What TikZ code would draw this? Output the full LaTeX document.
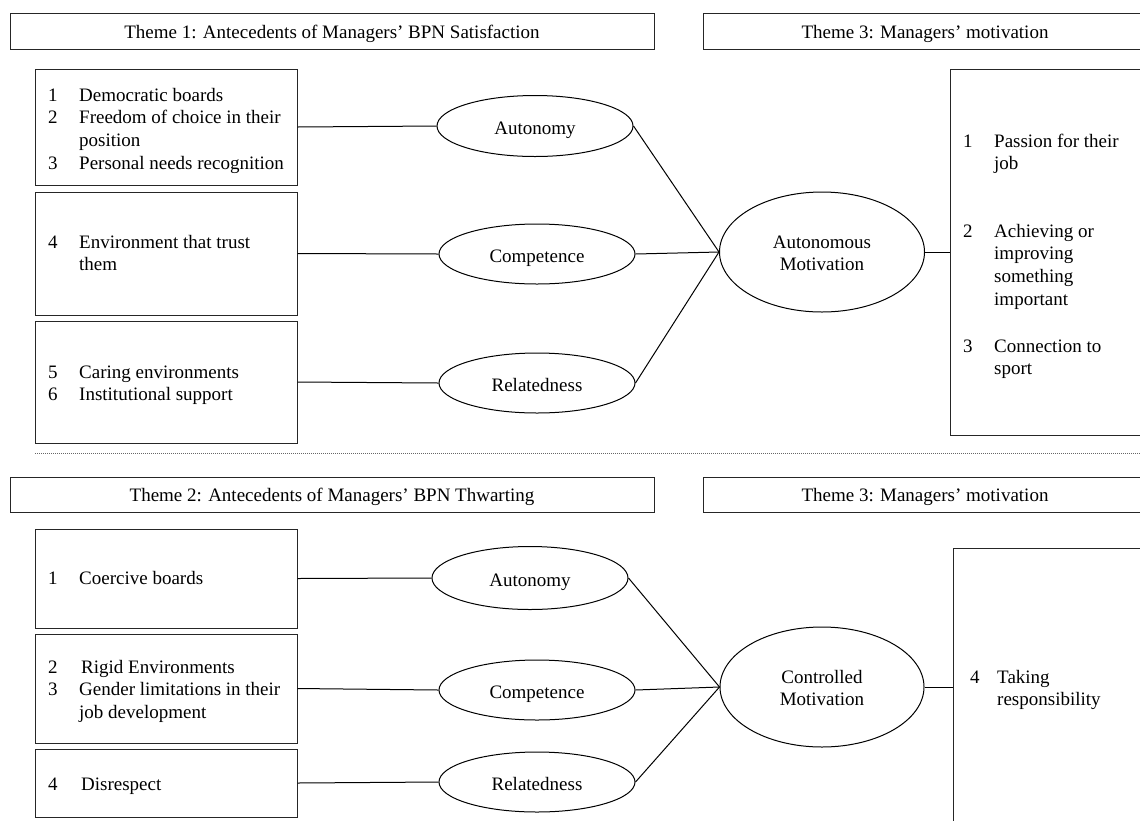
\documentclass[tikz,border=0pt]{standalone}
\usepackage{fontspec}
\setmainfont{Liberation Serif}
\usetikzlibrary{shapes.geometric}
\newcommand{\fs}{\fontsize{19}{22.7}\selectfont}
\newcommand{\itemlist}[2]{\begin{tabular}[t]{@{}p{#1}@{}l@{}}#2\end{tabular}}
\newcommand{\twoline}[2]{\raisebox{-3pt}[\height][\depth]{\begin{tabular}{@{}c@{}}#1\\#2\end{tabular}}}
\begin{document}
\begin{tikzpicture}[x=1pt,y=-1pt,
  font=\fs,
  box/.style={draw=black!85, line width=1pt, rectangle, inner sep=0pt},
  theme/.style={box, text height=17pt, text depth=3pt},
  oval/.style={draw=black, line width=1pt, ellipse, inner sep=0pt, minimum width=196pt, minimum height=60pt, text height=18pt, text depth=2pt},
  bigoval/.style={draw=black, line width=1pt, ellipse, inner sep=0pt, minimum width=204pt, minimum height=120pt},
  listtext/.style={anchor=base west, inner sep=0pt},
  link/.style={draw=black, line width=1pt},
  sep/.style={draw=black!60, line width=0.8pt, dash pattern=on 1pt off 1pt}]
\useasboundingbox (0,0) rectangle (1140,820);

% Theme headers
\node[theme, minimum width=644pt, minimum height=36pt] (th1) at (332,31) {Theme 1: Antecedents of Managers’ BPN Satisfaction};
\node[theme, minimum width=444pt, minimum height=36pt] (th3a) at (925,31) {Theme 3: Managers’ motivation};
\node[theme, minimum width=644pt, minimum height=35pt] (th2) at (332,494.5) {Theme 2: Antecedents of Managers’ BPN Thwarting};
\node[theme, minimum width=444pt, minimum height=35pt] (th3b) at (925,494.5) {Theme 3: Managers’ motivation};

% Left boxes (top)
\node[box, minimum width=262pt, minimum height=116pt] (b1) at (166,127) {};
\node[box, minimum width=262pt, minimum height=123pt] (b2) at (166,253.5) {};
\node[box, minimum width=262pt, minimum height=122pt] (b3) at (166,382) {};
% Left boxes (bottom)
\node[box, minimum width=262pt, minimum height=99pt] (b4) at (166,578.5) {};
\node[box, minimum width=262pt, minimum height=109pt] (b5) at (166,688.5) {};
\node[box, minimum width=262pt, minimum height=68pt] (b6) at (166,783) {};
% Right boxes
\node[box, minimum width=210pt, minimum height=366pt] (rt) at (1055,252) {};
\node[box, minimum width=207pt, minimum height=292pt] (rb) at (1056.5,694) {};

% Texts in boxes
\node[listtext] (t1) at (48,101) {\itemlist{31pt}{1 & Democratic boards\\ 2 & Freedom of choice in their\\ & position\\ 3 & Personal needs recognition}};
\node[listtext] (t2) at (48,248) {\itemlist{31pt}{4 & Environment that trust\\ & them}};
\node[listtext] (t3) at (48,378) {\itemlist{31pt}{5 & Caring environments\\ 6 & Institutional support}};
\node[listtext] (t4) at (48,584) {\itemlist{31pt}{1 & Coercive boards}};
\node[listtext] (t5) at (48,673) {\itemlist{31pt}{2 & \hspace{2pt}Rigid Environments\\ 3 & Gender limitations in their\\ & job development}};
\node[listtext] (t6) at (48,790) {\itemlist{31pt}{4 & \hspace{2pt}Disrespect}};
\node[listtext] (r1) at (963,147) {\itemlist{31pt}{1 & Passion for their\\ & job}};
\node[listtext] (r2) at (963,237) {\itemlist{31pt}{2 & Achieving or\\ & improving\\ & something\\ & important}};
\node[listtext] (r3) at (963,352) {\itemlist{31pt}{3 & Connection to\\ & sport}};
\node[listtext] (r4) at (970,683) {\itemlist{27pt}{4 & Taking\\ & responsibility}};

% Ellipses (top)
\node[oval, minimum height=61pt] (e1) at (535,126) {Autonomy};
\node[oval] (e2) at (537,254) {Competence};
\node[oval] (e3) at (537,383) {Relatedness};
\node[bigoval, minimum width=205pt] (am) at (822,252) {\twoline{Autonomous}{Motivation}};
% Ellipses (bottom)
\node[oval, minimum height=63pt] (f1) at (530,578) {Autonomy};
\node[oval] (f2) at (537,690) {Competence};
\node[oval] (f3) at (537,782) {Relatedness};
\node[bigoval] (cm) at (822,687) {\twoline{Controlled}{Motivation}};

% Connectors (top)
\draw[link] (b1.east) -- (e1.west);
\draw[link] (b2.east) -- (e2.west);
\draw[link] (b3.east) -- (e3.west);
\draw[link] (e1.east) -- (am.west);
\draw[link] (e2.east) -- (am.west);
\draw[link] (e3.east) -- (am.west);
\draw[link] (am.east) -- (am.east -| rt.west);
% Connectors (bottom)
\draw[link] (b4.east) -- (f1.west);
\draw[link] (b5.east) -- (f2.west);
\draw[link] (b6.east) -- (f3.west);
\draw[link] (f1.east) -- (cm.west);
\draw[link] (f2.east) -- (cm.west);
\draw[link] (f3.east) -- (cm.west);
\draw[link] (cm.east) -- (cm.east -| rb.west);

% Dotted separator
\coordinate (d1) at (35,453);
\coordinate (d2) at (1140,453);
\draw[sep] (d1) -- (d2);
\end{tikzpicture}
\end{document}
